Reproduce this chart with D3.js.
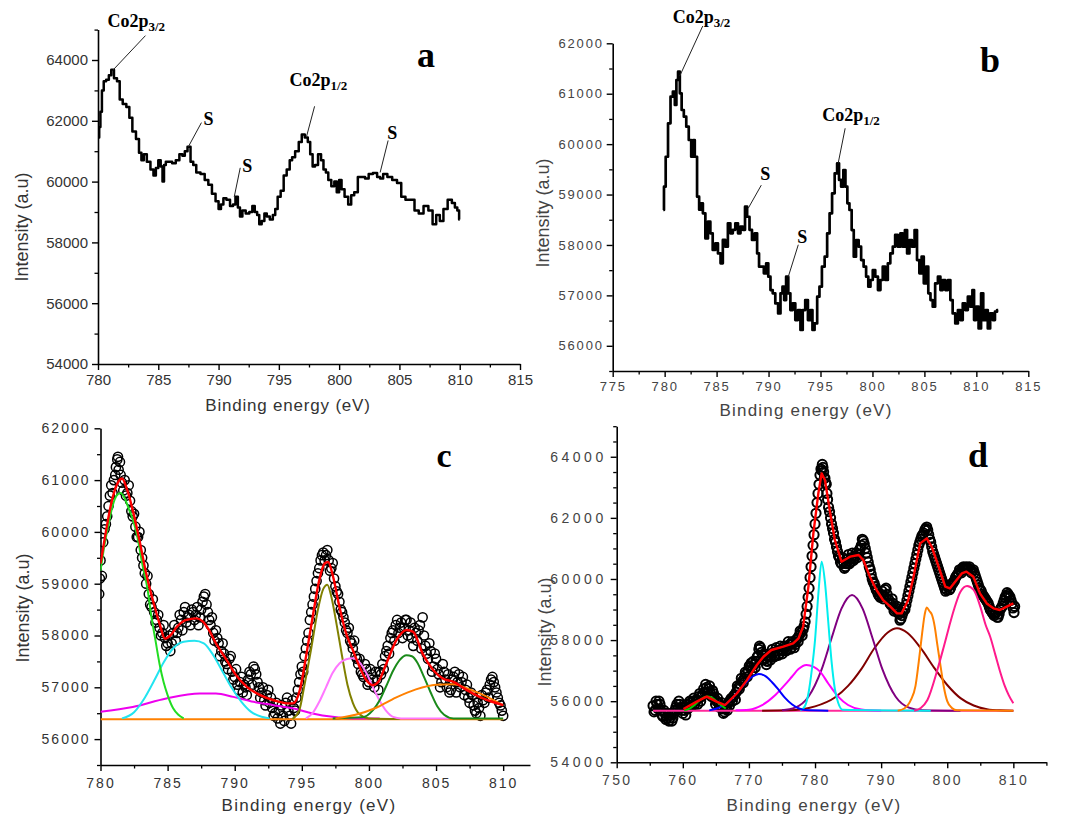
<!DOCTYPE html>
<html><head><meta charset="utf-8">
<script src="https://cdn.jsdelivr.net/npm/d3@7"></script>
<style>body{margin:0;background:#fff}svg{display:block}</style>
</head><body>
<svg id="chart" width="1072" height="817"></svg>
<script>
// ---------------- DATA ----------------
// panel a : raw Co2p spectrum
const spectrumA = [[780.05,61450],[780.15,61800],[780.25,62300],[780.4,63000],[780.55,63300],[780.8,63350],[781.0,63500],[781.2,63680],[781.45,63400],[781.7,63300],[781.9,62700],[782.2,62550],[782.5,62450],[782.7,62100],[783.0,61650],[783.3,61400],[783.5,60950],[783.7,60700],[783.9,60900],[784.2,60650],[784.5,60400],[784.7,60200],[784.9,60450],[785.1,60700],[785.3,60500],[785.4,60000],[785.55,60550],[785.7,60650],[786.0,60650],[786.3,60600],[786.6,60700],[786.9,60900],[787.1,60850],[787.3,61000],[787.55,61150],[787.8,60650],[788.0,60550],[788.3,60300],[788.7,60250],[789.0,60050],[789.3,59900],[789.6,59600],[789.9,59350],[790.1,59100],[790.3,59250],[790.5,59450],[790.8,59400],[791.1,59200],[791.3,59250],[791.5,59500],[791.7,59150],[791.85,58850],[792.1,59050],[792.4,58950],[792.7,59000],[792.9,59200],[793.1,59000],[793.3,58900],[793.45,58600],[793.7,58700],[793.9,58950],[794.1,58850],[794.4,58750],[794.6,58900],[794.8,59100],[795.0,59500],[795.3,59700],[795.5,60200],[795.8,60400],[796.0,60700],[796.2,60800],[796.5,61000],[796.8,61300],[797.0,61550],[797.3,61450],[797.5,61300],[797.7,60900],[797.9,60500],[798.1,60550],[798.4,60900],[798.6,60700],[798.8,60400],[799.0,60300],[799.2,60050],[799.5,59850],[799.7,60000],[799.9,59650],[800.1,60050],[800.3,59750],[800.6,59500],[800.9,59250],[801.1,59550],[801.4,59650],[801.7,60150],[802.0,60150],[802.3,60100],[802.6,60250],[803.0,60280],[803.3,60150],[803.5,60100],[803.8,60250],[804.2,60150],[804.6,60050],[805.0,59950],[805.3,59500],[805.7,59400],[806.1,59400],[806.4,59050],[806.8,58950],[807.2,59200],[807.6,59050],[807.9,58600],[808.2,58900],[808.5,58700],[808.8,59100],[809.2,59400],[809.5,59300],[809.7,59150],[809.9,59050],[810.0,58750]];

// panel b : raw Co2p spectrum
const spectrumB = [[779.87,58693],[780.0,59156],[780.2,59750],[780.45,60413],[780.68,60942],[780.9,61040],[781.06,60776],[781.2,61272],[781.38,61438],[781.54,61008],[781.73,60677],[781.96,60545],[782.2,60347],[782.44,60082],[782.67,59750],[782.8,60080],[783.0,59750],[783.24,58958],[783.4,58700],[783.56,58825],[783.8,58627],[784.04,58130],[784.3,58462],[784.5,58230],[784.75,57900],[785.0,58030],[785.26,57833],[785.5,57635],[785.7,58100],[785.97,57965],[786.2,58430],[786.45,58230],[786.67,58300],[786.93,58430],[787.19,58230],[787.41,58362],[787.64,58300],[787.83,58760],[788.05,58560],[788.28,58300],[788.53,58100],[788.8,58230],[789.0,57833],[789.17,57570],[789.43,57570],[789.66,57437],[789.88,57635],[790.07,57370],[790.3,57106],[790.5,57040],[790.8,56840],[791.04,56643],[791.26,57040],[791.42,57172],[791.58,56907],[791.8,57370],[792.0,57040],[792.2,56709],[792.45,56840],[792.7,56510],[792.96,56709],[793.18,56313],[793.4,56709],[793.66,56907],[793.92,56510],[794.15,56709],[794.3,56313],[794.56,56444],[794.8,56974],[795.0,57172],[795.27,57570],[795.53,57767],[795.75,58230],[796.0,58627],[796.23,59024],[796.5,59420],[796.7,59619],[796.87,59290],[797.1,59156],[797.3,59487],[797.5,59156],[797.67,58825],[797.9,58693],[798.1,58296],[798.3,57767],[798.54,58098],[798.8,57966],[799.02,57700],[799.28,57570],[799.5,57370],[799.7,57172],[799.92,57305],[800.14,57500],[800.4,57370],[800.66,57106],[800.88,57305],[801.1,57570],[801.36,57305],[801.6,57635],[801.84,57833],[802.07,57966],[802.3,58200],[802.58,57966],[802.8,58230],[803.03,57966],[803.22,58296],[803.45,57833],[803.67,58098],[803.93,57966],[804.18,58296],[804.4,57700],[804.63,57437],[804.83,57767],[805.05,57240],[805.28,57570],[805.47,57040],[805.7,56907],[805.9,56775],[806.17,57240],[806.43,57370],[806.65,57106],[806.88,57305],[807.14,57106],[807.4,57305],[807.6,56907],[807.84,56643],[808.1,56444],[808.35,56709],[808.58,56510],[808.8,56840],[809.06,56709],[809.3,56974],[809.54,56775],[809.7,57106],[809.86,56510],[810.09,56775],[810.34,56345],[810.57,57040],[810.76,56510],[811.0,56709],[811.2,56345],[811.46,56643],[811.7,56510],[811.88,56676],[812.1,56709]];

// panel c : measured points (two interleaved passes), fitted envelope and components
const pointsC = [[779.9,58800],[779.95,59100],[780.0,59450],[780.2,59800],[780.4,60150],[780.6,60500],[780.8,60900],[781.0,61000],[781.15,61250],[781.3,61450],[781.45,61350],[781.6,60950],[781.8,61000],[782.0,60750],[782.2,60600],[782.4,60300],[782.6,60100],[782.8,59900],[783.0,59650],[783.2,59350],[783.4,59000],[783.6,58800],[783.8,58550],[784.0,58450],[784.2,58300],[784.4,58150],[784.6,58050],[784.8,57950],[785.0,57850],[785.2,57700],[785.4,58050],[785.6,57900],[785.8,58150],[786.0,58300],[786.2,58450],[786.4,58250],[786.6,58400],[786.8,58500],[787.0,58300],[787.2,58550],[787.4,58350],[787.6,58650],[787.8,58800],[788.0,58450],[788.2,58200],[788.4,58050],[788.6,58100],[788.8,57850],[789.0,57700],[789.2,57650],[789.4,57450],[789.6,57550],[789.8,57300],[790.0,57200],[790.2,57050],[790.4,57100],[790.6,56900],[790.8,57000],[791.0,57150],[791.2,57250],[791.4,57400],[791.6,57250],[791.8,57000],[792.0,56900],[792.2,56750],[792.4,56850],[792.6,56700],[792.8,56600],[793.0,56500],[793.2,56400],[793.4,56300],[793.6,56450],[793.8,56700],[794.0,56550],[794.2,56300],[794.4,56600],[794.6,56800],[794.8,57100],[795.0,57400],[795.2,57600],[795.4,57900],[795.6,58300],[795.8,58600],[796.0,58900],[796.2,59200],[796.4,59450],[796.6,59600],[796.8,59550],[797.0,59450],[797.2,59300],[797.4,59100],[797.6,58850],[797.8,58650],[798.0,58450],[798.2,58250],[798.4,58050],[798.6,57900],[798.8,57750],[799.0,57600],[799.2,57450],[799.4,57300],[799.6,57200],[799.8,57350],[800.0,57100],[800.2,57250],[800.4,57000],[800.6,57150],[800.8,57300],[801.0,57450],[801.2,57600],[801.4,57800],[801.6,57950],[801.8,58100],[802.0,58200],[802.2,58050],[802.4,58250],[802.6,58150],[802.8,58300],[803.0,58100],[803.2,57950],[803.4,58150],[803.6,57900],[803.8,58200],[804.0,58350],[804.2,57800],[804.4,57550],[804.6,57700],[804.8,57400],[805.0,57550],[805.2,57250],[805.4,57100],[805.6,57300],[805.8,57000],[806.0,56900],[806.2,57150],[806.4,57300],[806.6,57100],[806.8,57000],[807.0,57200],[807.2,56950],[807.4,56800],[807.6,56900],[807.8,56650],[808.0,56500],[808.2,56600],[808.4,56850],[808.6,56700],[808.8,56950],[809.0,57050],[809.2,57200],[809.4,57000],[809.6,56800],[809.8,56650],[810.0,56450]];
const pointsC2 = [[780.1,59150],[780.3,60050],[780.5,60300],[780.7,60700],[780.9,60750],[781.1,61100],[781.25,61400],[781.35,61200],[781.5,61100],[781.7,60800],[781.9,60700],[782.1,60900],[782.3,60400],[782.5,60350],[782.7,59900],[782.9,60000],[783.1,59500],[783.3,59200],[783.5,59150],[783.7,58600],[783.9,58700],[784.1,58250],[784.3,58400],[784.5,58000],[784.7,58200],[784.9,57800],[785.1,58000],[785.3,57850],[785.5,58200],[785.7,58050],[785.9,58400],[786.1,58100],[786.3,58550],[786.5,58350],[786.7,58200],[786.9,58450],[787.1,58400],[787.3,58200],[787.5,58500],[787.7,58750],[787.9,58600],[788.1,58300],[788.3,58350],[788.5,57900],[788.7,57950],[788.9,57600],[789.1,57850],[789.3,57500],[789.5,57350],[789.7,57600],[789.9,57150],[790.1,57350],[790.3,56950],[790.5,57200],[790.7,57050],[790.9,56850],[791.1,57300],[791.3,57050],[791.5,57350],[791.7,57100],[791.9,56800],[792.1,57000],[792.3,56650],[792.5,56950],[792.7,56800],[792.9,56450],[793.1,56700],[793.3,56550],[793.5,56650],[793.7,56350],[793.9,56800],[794.1,56450],[794.3,56750],[794.5,56550],[794.7,56950],[794.9,57250],[795.1,57300],[795.3,57750],[795.5,58050],[795.7,58450],[795.9,58750],[796.1,59050],[796.3,59300],[796.5,59550],[796.7,59450],[796.9,59650],[797.1,59250],[797.3,59400],[797.5,58950],[797.7,58800],[797.9,58500],[798.1,58350],[798.3,58100],[798.5,58150],[798.7,57850],[798.9,57900],[799.1,57550],[799.3,57550],[799.5,57250],[799.7,57450],[799.9,57050],[800.1,57350],[800.3,57150],[800.5,57300],[800.7,56950],[800.9,57250],[801.1,57350],[801.3,57700],[801.5,57650],[801.7,58050],[801.9,57900],[802.1,58300],[802.3,58150],[802.5,57950],[802.7,58300],[802.9,58000],[803.1,58250],[803.3,57800],[803.5,58050],[803.7,58100],[803.9,57750],[804.1,58000],[804.3,57650],[804.5,57850],[804.7,57300],[804.9,57650],[805.1,57350],[805.3,57000],[805.5,57450],[805.7,57150],[805.9,57250],[806.1,56950],[806.3,57200],[806.5,56900],[806.7,57250],[806.9,57100],[807.1,56850],[807.3,57050],[807.5,56700],[807.7,56850],[807.9,56550],[808.1,56700],[808.3,56450],[808.5,56750],[808.7,56900],[808.9,56800],[809.1,57150],[809.3,57100],[809.5,56900],[809.7,56700],[809.9,56550]];
const fitC = [[780.0,59390],[780.4,60000],[780.8,60550],[781.2,60900],[781.6,61030],[782.0,60800],[782.4,60420],[782.9,59840],[783.4,59200],[783.9,58680],[784.4,58230],[784.8,57940],[785.2,58000],[785.7,58170],[786.4,58300],[787.15,58330],[787.65,58265],[788.1,58100],[788.6,57850],[789.4,57525],[790.1,57235],[790.9,57010],[791.9,56850],[792.9,56750],[793.9,56690],[794.35,56690],[794.85,56945],[795.35,57650],[795.85,58425],[796.3,59070],[796.7,59390],[796.96,59420],[797.33,59135],[797.8,58555],[798.3,58040],[798.8,57720],[799.3,57395],[799.8,57140],[800.3,57040],[800.7,57105],[801.3,57460],[802.05,57910],[802.8,58105],[803.3,58070],[804.0,57650],[804.8,57330],[805.5,57170],[806.3,57105],[807.3,56945],[808.5,56785],[810.0,56655]];
const baselineC = [[780.0,56385],[810.0,56385]];
const peakC1 = [[780.0,59250],[780.3,59750],[780.6,60150],[780.9,60500],[781.2,60700],[781.5,60750],[781.8,60650],[782.1,60450],[782.4,60250],[782.75,59900],[783.1,59400],[783.5,58900],[783.8,58350],[784.1,57900],[784.4,57450],[784.7,57100],[785.0,56850],[785.4,56600],[785.8,56470],[786.2,56400]];
const peakC2 = [[781.6,56400],[782.5,56520],[783.3,56800],[784.0,57130],[784.7,57480],[785.4,57750],[786.2,57880],[787.0,57900],[787.7,57850],[788.4,57620],[789.1,57300],[789.8,56980],[790.5,56720],[791.2,56530],[792.0,56430],[792.6,56400]];
const peakC3 = [[780.0,56527],[782.4,56620],[784.9,56785],[787.4,56880],[788.6,56880],[789.9,56815],[791.4,56720],[792.9,56655],[794.4,56590],[795.8,56495],[797.3,56430],[798.8,56400],[800.8,56400]];
const peakC4 = [[794.3,56390],[794.8,56550],[795.2,57050],[795.7,57750],[796.2,58500],[796.6,58900],[796.9,58980],[797.2,58750],[797.6,58200],[798.0,57600],[798.4,57050],[798.8,56700],[799.3,56480],[800.0,56400],[802.3,56390]];
const peakC5 = [[795.3,56400],[795.8,56500],[796.3,56720],[796.8,57000],[797.3,57280],[797.8,57460],[798.3,57540],[798.8,57560],[799.3,57480],[799.8,57280],[800.3,57000],[800.8,56740],[801.3,56540],[801.8,56430],[802.4,56400],[806.0,56400]];
const peakC6 = [[797.3,56400],[799.5,56420],[800.3,56560],[800.8,56750],[801.3,57030],[801.8,57320],[802.3,57530],[802.8,57620],[803.2,57600],[803.6,57480],[804.1,57200],[804.6,56900],[805.1,56630],[805.6,56470],[806.3,56400],[810.0,56400]];
const peakC7 = [[797.5,56400],[799.0,56470],[800.5,56600],[802.0,56800],[803.5,56960],[805.0,57050],[806.3,57060],[807.5,56960],[808.7,56830],[810.0,56650]];

// panel d : measured points (two interleaved passes), fitted envelope and components
const pointsD = [[755.5,55850],[755.8,55700],[756.1,55900],[756.4,56000],[756.7,55700],[757.0,55500],[757.3,55600],[757.6,55450],[757.9,55350],[758.2,55550],[758.5,55450],[758.8,55700],[759.1,55900],[759.4,56000],[759.7,55800],[760.0,55600],[760.3,55700],[760.6,55900],[760.9,55800],[761.2,55950],[761.5,56000],[761.8,55900],[762.1,56050],[762.4,56150],[762.7,56000],[763.0,56200],[763.3,56300],[763.6,56450],[763.9,56400],[764.2,56250],[764.5,56350],[764.8,56100],[765.1,56000],[765.4,55950],[765.7,55850],[766.0,55750],[766.3,55650],[766.6,55800],[766.9,55950],[767.2,56050],[767.5,56000],[767.8,56200],[768.1,56300],[768.4,56450],[768.7,56550],[769.0,56650],[769.3,56750],[769.6,56900],[769.9,57000],[770.2,57100],[770.5,57000],[770.8,57200],[771.1,57300],[771.4,57500],[771.6,57800],[771.9,57600],[772.2,57350],[772.5,57400],[772.8,57300],[773.1,57500],[773.4,57450],[773.7,57600],[774.0,57500],[774.3,57650],[774.6,57550],[774.9,57700],[775.2,57650],[775.5,57750],[775.8,57700],[776.1,57850],[776.4,57750],[776.7,57900],[777.0,57850],[777.3,58050],[777.6,58150],[777.9,58250],[778.2,58350],[778.5,58600],[778.8,59100],[779.1,59700],[779.4,60400],[779.7,61100],[780.0,61800],[780.3,62500],[780.6,63100],[780.9,63600],[781.1,63750],[781.3,63500],[781.5,63300],[781.7,63100],[781.9,62600],[782.2,62200],[782.5,61800],[782.8,61500],[783.1,61200],[783.4,60900],[783.7,60700],[784.0,60500],[784.3,60550],[784.6,60400],[784.9,60650],[785.2,60500],[785.5,60700],[785.8,60600],[786.1,60750],[786.4,60700],[786.7,60950],[787.0,61100],[787.3,61250],[787.6,61000],[787.9,60700],[788.2,60400],[788.5,60150],[788.8,59900],[789.1,59750],[789.4,59600],[789.7,59450],[790.0,59500],[790.3,59350],[790.6,59650],[790.9,59500],[791.2,59300],[791.5,59150],[791.8,59200],[792.1,59000],[792.4,59100],[792.7,58850],[793.0,58700],[793.3,58900],[793.6,59000],[793.9,59300],[794.2,59600],[794.5,59900],[794.8,60200],[795.1,60500],[795.4,60800],[795.7,61100],[796.0,61300],[796.3,61450],[796.6,61600],[796.9,61700],[797.2,61450],[797.5,61200],[797.8,60900],[798.1,60700],[798.4,60500],[798.7,60300],[799.0,60100],[799.3,59900],[799.6,59700],[799.9,59650],[800.2,59800],[800.5,59700],[800.8,59850],[801.1,59950],[801.4,60100],[801.7,60200],[802.0,60250],[802.3,60350],[802.6,60300],[802.9,60400],[803.2,60350],[803.5,60300],[803.8,60250],[804.1,60200],[804.4,60000],[804.7,59800],[805.0,59650],[805.3,59500],[805.6,59400],[805.9,59300],[806.2,59200],[806.5,59000],[806.8,58900],[807.1,58800],[807.4,58900],[807.7,58750],[808.0,59000],[808.3,59100],[808.6,59300],[808.9,59450],[809.2,59500],[809.5,59400],[809.8,59200],[810.1,58900],[810.2,59100]];
const pointsD2 = [[755.65,55650],[755.95,56000],[756.25,55750],[756.55,55900],[756.85,55550],[757.15,55700],[757.45,55400],[757.75,55600],[758.05,55450],[758.35,55350],[758.65,55600],[758.95,55800],[759.25,55750],[759.55,55900],[759.85,55700],[760.15,55800],[760.45,55550],[760.75,55750],[761.05,56000],[761.35,55850],[761.65,56100],[761.95,56000],[762.25,55900],[762.55,56250],[762.85,56150],[763.15,56400],[763.45,56550],[763.75,56300],[764.05,56500],[764.35,56150],[764.65,56250],[764.95,55900],[765.25,56100],[765.55,55800],[765.85,55950],[766.15,55600],[766.45,55750],[766.75,55700],[767.05,55850],[767.35,56100],[767.65,56150],[767.95,56050],[768.25,56500],[768.55,56400],[768.85,56750],[769.15,56600],[769.45,56950],[769.75,56800],[770.05,57150],[770.35,57250],[770.65,57300],[770.95,57100],[771.25,57450],[771.5,57700],[771.75,57750],[772.05,57500],[772.35,57550],[772.65,57200],[772.95,57450],[773.25,57350],[773.55,57700],[773.85,57450],[774.15,57750],[774.45,57500],[774.75,57800],[775.05,57550],[775.35,57800],[775.65,57650],[775.95,57950],[776.25,57700],[776.55,57950],[776.85,57750],[777.15,58000],[777.45,57950],[777.75,58300],[778.05,58150],[778.35,58450],[778.65,58850],[778.95,59400],[779.25,60050],[779.55,60750],[779.85,61450],[780.15,62150],[780.45,62800],[780.75,63400],[781.0,63550],[781.2,63650],[781.4,63300],[781.6,63150],[781.8,62800],[782.05,62350],[782.35,62000],[782.65,61650],[782.95,61300],[783.25,61050],[783.55,60750],[783.85,60550],[784.15,60700],[784.45,60350],[784.75,60500],[785.05,60800],[785.35,60550],[785.65,60850],[785.95,60650],[786.25,60850],[786.55,60800],[786.85,61000],[787.15,61300],[787.45,61150],[787.75,60850],[788.05,60550],[788.35,60300],[788.65,60000],[788.95,59850],[789.25,59650],[789.55,59500],[789.85,59400],[790.15,59600],[790.45,59450],[790.75,59700],[791.05,59350],[791.35,59200],[791.65,59350],[791.95,58950],[792.25,59050],[792.55,58900],[792.85,58650],[793.15,58800],[793.45,59050],[793.75,59150],[794.05,59450],[794.35,59750],[794.65,60050],[794.95,60350],[795.25,60650],[795.55,60950],[795.85,61200],[796.15,61400],[796.45,61500],[796.75,61650],[797.05,61600],[797.35,61300],[797.65,61050],[797.95,60800],[798.25,60600],[798.55,60400],[798.85,60200],[799.15,60000],[799.45,59800],[799.75,59600],[800.05,59750],[800.35,59650],[800.65,59800],[800.95,59900],[801.25,60050],[801.55,60150],[801.85,60300],[802.15,60200],[802.45,60400],[802.75,60350],[803.05,60300],[803.35,60400],[803.65,60200],[803.95,60300],[804.25,60100],[804.55,59900],[804.85,59700],[805.15,59600],[805.45,59450],[805.75,59350],[806.05,59250],[806.35,59100],[806.65,58950],[806.95,58850],[807.25,58900],[807.55,58750],[807.85,58850],[808.15,59050],[808.45,59200],[808.75,59400],[809.05,59550],[809.35,59450],[809.65,59300],[809.95,59050]];
const fitD = [[760.1,55745],[762.1,55985],[763.6,56150],[765.1,55985],[766.4,55875],[768.2,56260],[769.7,56690],[771.2,57185],[772.2,57455],[773.4,57675],[775.2,57785],[776.7,57895],[777.5,58055],[778.2,58440],[779.0,59750],[779.75,61490],[780.5,62800],[781.0,63455],[781.5,63240],[782.3,62150],[783.0,61275],[784.0,60565],[785.3,60730],[786.6,60785],[787.3,60620],[788.3,60075],[789.3,59640],[790.3,59310],[791.4,59095],[792.4,58875],[793.1,58875],[794.1,59310],[794.9,60075],[795.9,61165],[796.9,61330],[797.65,61055],[798.7,60400],[799.7,59750],[800.4,59690],[801.2,59910],[802.2,60180],[802.9,60240],[803.95,60075],[804.95,59530],[805.97,59200],[806.98,59040],[807.97,58985],[809.0,59095],[810.0,59200]];
const baselineD = [[755.5,55690],[810.0,55690]];
const peakD1 = [[760.2,55700],[761.0,55760],[761.8,55880],[762.5,56020],[763.2,56120],[763.8,56150],[764.5,56100],[765.2,55980],[765.9,55850],[766.5,55760]];
const peakD2 = [[764.0,55700],[765.5,55790],[766.5,55900],[767.5,56100],[768.5,56350],[769.5,56600],[770.5,56800],[771.5,56890],[772.5,56820],[773.5,56620],[774.5,56370],[775.5,56100],[776.5,55900],[777.5,55770],[778.5,55710],[782.0,55690]];
const peakD3 = [[768.0,55700],[770.0,55720],[772.0,55870],[774.0,56200],[775.5,56550],[776.5,56800],[777.5,57050],[778.7,57185],[779.8,57120],[780.8,56960],[782.0,56580],[783.5,56150],[785.0,55875],[787.0,55730],[790.0,55690]];
const peakD4 = [[777.8,55690],[778.5,55850],[779.0,56250],[779.5,57000],[780.0,58000],[780.5,59500],[781.0,60565],[781.5,59900],[782.0,58600],[782.5,57300],[783.0,56400],[783.5,55950],[784.2,55720],[797.5,55690]];
const peakD5 = [[775.0,55706],[777.0,55790],[779.0,56145],[781.0,57040],[782.5,58060],[784.0,59030],[785.6,59475],[787.2,59030],[788.7,58060],[790.2,57040],[792.2,56145],[794.2,55790],[796.2,55706],[802.0,55690]];
const peakD6 = [[772.0,55690],[776.0,55700],[780.0,55830],[783.0,56120],[785.0,56500],[787.0,57050],[789.0,57740],[791.0,58250],[792.4,58385],[794.0,58230],[796.0,57735],[798.0,57100],[800.0,56530],[802.0,56100],[804.0,55860],[806.0,55740],[808.0,55700],[810.0,55690]];
const peakD7 = [[792.5,55690],[793.5,55760],[794.5,56040],[795.2,56500],[795.7,57300],[796.2,58220],[796.6,58850],[796.9,59070],[797.3,58950],[797.7,58820],[798.1,58450],[798.5,57850],[799.0,57130],[799.5,56450],[800.0,56000],[800.7,55780],[801.5,55700],[810.0,55690]];
const peakD8 = [[795.0,55690],[796.0,55780],[797.0,56040],[798.5,57020],[799.5,57800],[800.3,58450],[801.0,58985],[802.0,59585],[803.0,59770],[804.0,59640],[805.0,59095],[805.8,58500],[806.5,58110],[807.3,57500],[808.0,56965],[808.7,56500],[809.3,56200],[810.0,55930]];

// tick values
const xTicksA = [780,785,790,795,800,805,810,815];
const xMinorA = [782.5,787.5,792.5,797.5,802.5,807.5,812.5];
const yTicksA = [54000,56000,58000,60000,62000,64000];
const yMinorA = [55000,57000,59000,61000,63000,65000];
const xTicksB = [775,780,785,790,795,800,805,810,815];
const xMinorB = [777.5,782.5,787.5,792.5,797.5,802.5,807.5,812.5];
const yTicksB = [56000,57000,58000,59000,60000,61000,62000];
const yMinorB = [55500,56500,57500,58500,59500,60500,61500];
const xTicksC = [780,785,790,795,800,805,810];
const xMinorC = [782.5,787.5,792.5,797.5,802.5,807.5];
const yTicksC = [56000,57000,58000,59000,60000,61000,62000];
const yMinorC = [55500,56500,57500,58500,59500,60500,61500];
const xTicksD = [750,760,770,780,790,800,810];
const xMinorD = [755,765,775,785,795,805,815];
const yTicksD = [54000,56000,58000,60000,62000,64000];
const yMinorD = [54500,55000,55500,56500,57000,57500,58500,59000,59500,60500,61000,61500,62500,63000,63500,64500,65000];

// annotations: [main, subscript, energy, intensity]
const notesA = [["Co2p","3/2",781.2,63650],["S","",787.5,61150],["S","",791.3,59500],["Co2p","1/2",797.3,61490],["S","",803.4,60300]];
const notesB = [["Co2p","3/2",781.45,61350],["S","",788.05,58730],["S","",791.9,57370],["Co2p","1/2",796.7,59620]];

const xTitle = "Binding energy (eV)";
const yTitle = "Intensity (a.u)";
const panelLetters = ["a","b","c","d"];

// ---------------- DRAWING ----------------
const svg = d3.select("#chart");
const SANS = "'Liberation Sans', Arial, sans-serif";
const SERIF = "'Liberation Serif', 'Times New Roman', serif";

function makePanel(o){
  const x = d3.scaleLinear().domain(o.xDomain).range([o.left, o.right]);
  const y = d3.scaleLinear().domain(o.yDomain).range([o.bottom, o.top]);
  const g = svg.append("g");
  const clipId = "clip-" + o.id;
  svg.append("clipPath").attr("id", clipId).append("rect")
    .attr("x", o.left).attr("y", o.top - 30).attr("width", o.right - o.left + 2).attr("height", o.bottom - o.top + 30);

  function styleAxis(sel, fs, ls){
    sel.select(".domain").attr("stroke", "#000").attr("stroke-width", 1.6);
    sel.selectAll(".tick line").attr("stroke", "#000").attr("stroke-width", 1.4);
    sel.selectAll(".tick text").attr("fill", o.tickColor).style("font-family", SANS)
      .style("font-size", fs + "px").style("letter-spacing", ls + "px");
  }
  g.append("g").attr("transform", `translate(0,${o.bottom})`)
    .call(d3.axisBottom(x).tickValues(o.xMinor).tickSize(3.5).tickSizeOuter(0).tickFormat(""))
    .call(s => { s.select(".domain").remove(); s.selectAll("line").attr("stroke","#000").attr("stroke-width",1.3); });
  g.append("g").attr("transform", `translate(${o.left},0)`)
    .call(d3.axisLeft(y).tickValues(o.yMinor).tickSize(3.5).tickSizeOuter(0).tickFormat(""))
    .call(s => { s.select(".domain").remove(); s.selectAll("line").attr("stroke","#000").attr("stroke-width",1.3); });
  g.append("g").attr("transform", `translate(0,${o.bottom})`)
    .call(d3.axisBottom(x).tickValues(o.xTicks).tickSize(6).tickSizeOuter(0).tickPadding(o.xPad).tickFormat(d3.format("d")))
    .call(s => styleAxis(s, o.fs, o.lsx));
  g.append("g").attr("transform", `translate(${o.left},0)`)
    .call(d3.axisLeft(y).tickValues(o.yTicks).tickSize(6).tickSizeOuter(0).tickPadding(o.yPad).tickFormat(d3.format("d")))
    .call(s => styleAxis(s, o.fsy || o.fs, o.lsy));
  g.append("text").attr("x", o.xtX).attr("y", o.xtY).attr("text-anchor", "middle")
    .style("font-family", SANS).style("font-size", "17px").style("letter-spacing", o.tls + "px")
    .attr("fill", o.tickColor).text(xTitle);
  g.append("text").attr("transform", `translate(${o.ytX},${o.ytY}) rotate(-90)`).attr("text-anchor", "middle")
    .style("font-family", SANS).style("font-size", "18px").attr("fill", o.tickColor).text(yTitle);
  g.append("text").attr("x", o.lblX).attr("y", o.lblY).attr("text-anchor", "middle")
    .style("font-family", SERIF).style("font-weight", "bold").style("font-size", o.lblSize + "px")
    .text(o.letter);
  const plot = svg.append("g").attr("clip-path", `url(#${clipId})`);
  return {x, y, g, plot};
}

function drawLine(p, data, color, width, curve){
  p.plot.append("path").datum(data)
    .attr("fill", "none").attr("stroke", color).attr("stroke-width", width)
    .attr("stroke-linejoin", "round")
    .attr("d", d3.line().x(d => p.x(d[0])).y(d => p.y(d[1])).curve(curve || d3.curveMonotoneX));
}
function drawPoints(p, data, r, sw){
  p.plot.append("g").selectAll("circle").data(data).join("circle")
    .attr("cx", d => p.x(d[0])).attr("cy", d => p.y(d[1])).attr("r", r)
    .attr("fill", "none").attr("stroke", "#000").attr("stroke-width", sw);
}
function drawNotes(p, notes, offs){
  notes.forEach((n, i) => {
    const px = p.x(n[2]), py = p.y(n[3]);
    const o = offs[i];
    svg.append("line").attr("x1", px).attr("y1", py).attr("x2", px + o[0]).attr("y2", py + o[1])
      .attr("stroke", "#222").attr("stroke-width", 1);
    const t = svg.append("text").attr("x", px + o[2]).attr("y", py + o[3])
      .style("font-family", SERIF).style("font-weight", "bold").style("font-size", "18px").text(n[0]);
    if (n[1]) t.append("tspan").attr("dy", 4).style("font-size", "13px").text(n[1]);
  });
}

// panel a
const pa = makePanel({id:"a", letter:panelLetters[0], xDomain:[780,815], yDomain:[54000,65000],
  left:98, right:520, top:29.6, bottom:364, xTicks:xTicksA, xMinor:xMinorA, yTicks:yTicksA, yMinor:yMinorA,
  fs:15, lsx:0, lsy:0, xPad:4, yPad:4, tickColor:"#333",
  xtX:288, xtY:411, tls:0.8, ytX:28, ytY:227, lblX:426, lblY:67, lblSize:36});
drawLine(pa, spectrumA, "#000", 2.5, d3.curveStep);
drawNotes(pa, notesA, [[33,-35,-5,-44],[13,-24,15,-22],[6,-29,8,-25],[8,-30,-17,-50],[8,-32,7,-33]]);

// panel b
const pb = makePanel({id:"b", letter:panelLetters[1], xDomain:[775,815], yDomain:[55500,62000],
  left:612.7, right:1028.3, top:43.3, bottom:371, xTicks:xTicksB, xMinor:xMinorB, yTicks:yTicksB, yMinor:yMinorB,
  fs:13, lsx:1.8, lsy:1.8, xPad:5, yPad:3, tickColor:"#444",
  xtX:806, xtY:416, tls:1.2, ytX:549, ytY:213, lblX:990, lblY:72, lblSize:36});
drawLine(pb, spectrumB, "#000", 2.7, d3.curveStep);
drawNotes(pb, notesB, [[23,-50,-7,-53],[13,-23,12,-28],[10,-32,9,-34],[7,-35,-16,-42]]);

// panel c
const pc = makePanel({id:"c", letter:panelLetters[2], xDomain:[780,812], yDomain:[55500,62000],
  left:100.5, right:530, top:428.3, bottom:765, xTicks:xTicksC, xMinor:xMinorC, yTicks:yTicksC, yMinor:yMinorC,
  fs:14, lsx:2, lsy:2, xPad:7, yPad:4, tickColor:"#333",
  xtX:309, xtY:811, tls:1.3, ytX:29, ytY:608, lblX:444, lblY:467, lblSize:34});
drawPoints(pc, pointsC.concat(pointsC2), 4.6, 1.5);
drawLine(pc, baselineC, "#ff8000", 2, d3.curveLinear);
drawLine(pc, peakC3, "#ee00ee", 2);
drawLine(pc, peakC2, "#22e4f0", 2);
drawLine(pc, peakC1, "#22dd22", 2);
drawLine(pc, peakC4, "#808000", 2);
drawLine(pc, peakC5, "#ff77ff", 2);
drawLine(pc, peakC6, "#1a8a1a", 2);
drawLine(pc, peakC7, "#ff8000", 2);
drawLine(pc, fitC, "#ff0000", 2.4);

// panel d
const pd = makePanel({id:"d", letter:panelLetters[3], xDomain:[750,815], yDomain:[54000,65000],
  left:616.7, right:1046.4, top:426.2, bottom:762.3, xTicks:xTicksD, xMinor:xMinorD, yTicks:yTicksD, yMinor:yMinorD,
  fs:14, lsx:2.3, lsy:3.5, xPad:7, yPad:4, tickColor:"#444",
  xtX:814, xtY:811, tls:1.3, ytX:551, ytY:632, lblX:978, lblY:467, lblSize:36});
drawPoints(pd, pointsD.concat(pointsD2), 4.6, 2);
drawLine(pd, baselineD, "#ff2a9a", 2, d3.curveLinear);
drawLine(pd, peakD6, "#800000", 2);
drawLine(pd, peakD5, "#800080", 2);
drawLine(pd, peakD3, "#ff00ff", 2);
drawLine(pd, peakD4, "#00eeee", 2);
drawLine(pd, peakD7, "#ff8000", 2);
drawLine(pd, peakD8, "#ff1a8c", 2);
drawLine(pd, peakD2, "#0000ff", 2);
drawLine(pd, peakD1, "#00cc00", 2);
drawLine(pd, fitD, "#ff0000", 2.4, d3.curveLinear);
</script>
</body></html>
